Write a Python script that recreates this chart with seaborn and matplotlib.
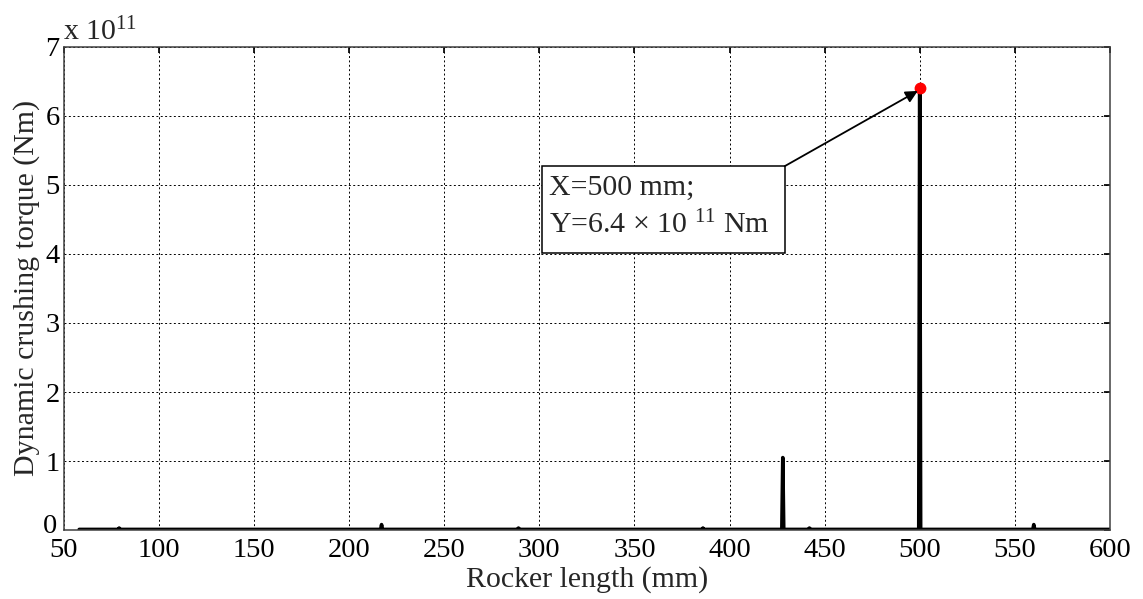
import matplotlib
matplotlib.use("Agg")
import matplotlib.pyplot as plt
import matplotlib.transforms as mtransforms
import seaborn as sns
import pandas as pd
from matplotlib.patches import Rectangle

# Rocker length (mm) and dynamic crushing torque (in units of 1e11 Nm)
rocker_length = [58, 78.5, 79, 79.5, 216.5, 217, 217.5, 288.5, 289, 289.5,
                 385.5, 386, 386.5, 427.5, 428, 428.5, 441.5, 442, 442.5,
                 499.5, 500, 500.5, 559.5, 560, 560.5, 600]
torque_e11 = [0.01, 0.01, 0.03, 0.01, 0.01, 0.08, 0.01, 0.01, 0.03, 0.01,
              0.01, 0.03, 0.01, 0.01, 1.05, 0.01, 0.01, 0.03, 0.01,
              0.01, 6.4, 0.01, 0.01, 0.08, 0.01, 0.01]
peak_x, peak_y = 500, 6.4

x_ticks = list(range(50, 601, 50))
y_ticks = list(range(0, 8))

sns.set_theme(style="white")
plt.rcParams["font.family"] = ["Liberation Serif", "DejaVu Serif"]
plt.rcParams["mathtext.fontset"] = "custom"
plt.rcParams["mathtext.rm"] = "Liberation Serif"
plt.rcParams["mathtext.it"] = "Liberation Serif:italic"

df = pd.DataFrame({"length": rocker_length, "torque": torque_e11})

fig = plt.figure(figsize=(11.43, 5.99), dpi=100)
ax = fig.add_axes([0.056, 0.115, 0.915, 0.807])

sns.lineplot(data=df, x="length", y="torque", ax=ax, color="black",
             linewidth=2.6, estimator=None)
ax.plot([peak_x], [peak_y], "o", color="red", markersize=7.5, zorder=5)

ax.set_xlim(50, 600)
ax.set_ylim(0, 7)
ax.set_xticks(x_ticks)
ax.set_yticks(y_ticks)
ax.tick_params(direction="in", length=4, labelsize=20.5, colors="black",
               top=True, right=True)
ax.tick_params(axis="x", pad=6)
ax.tick_params(axis="y", pad=3)
ax.grid(True, color="black", linestyle=(0, (2, 2.5)), linewidth=0.7)
for s in ax.spines.values():
    s.set_color("#404040")
    s.set_linewidth(1.1)
    s.set_visible(True)

# nudge the lowest y tick label so it clears the first x tick label
fig.canvas.draw()
ylabels = ax.get_yticklabels()
ylabels[0].set_transform(ylabels[0].get_transform() +
                         mtransforms.ScaledTranslation(-3 / 100, 7 / 100,
                                                       fig.dpi_scale_trans))

ax.set_xlabel("Rocker length (mm)", fontsize=21.5, labelpad=2)
ax.set_ylabel("Dynamic crushing torque (Nm)", fontsize=21.5, labelpad=2)
ax.text(-0.001, 1.0, r"x 10$^{11}$", transform=ax.transAxes, fontsize=21.5,
        ha="left", va="bottom")

# Annotation box with arrow to the peak value
box_x0, box_y0, box_x1, box_y1 = 301.3, 4.01, 429, 5.27
ax.add_patch(Rectangle((box_x0, box_y0), box_x1 - box_x0, box_y1 - box_y0,
                       facecolor="white", edgecolor="black", linewidth=1.1,
                       zorder=4))
ax.text(box_x0 + 3.5, 4.95, "X=500 mm;", fontsize=21.5, va="center",
        ha="left", zorder=6)
ax.text(box_x0 + 3.5, 4.42, r"Y=6.4 $\times$ 10 $^{11}$ Nm", fontsize=21.5,
        va="center", ha="left", zorder=6)
ax.annotate("", xy=(peak_x - 1, peak_y - 0.04), xytext=(box_x1, box_y1),
            arrowprops=dict(arrowstyle="-|>", color="black", lw=1.3,
                            mutation_scale=18, shrinkA=0, shrinkB=0),
            zorder=6)

fig.savefig("out.png", dpi=100)
